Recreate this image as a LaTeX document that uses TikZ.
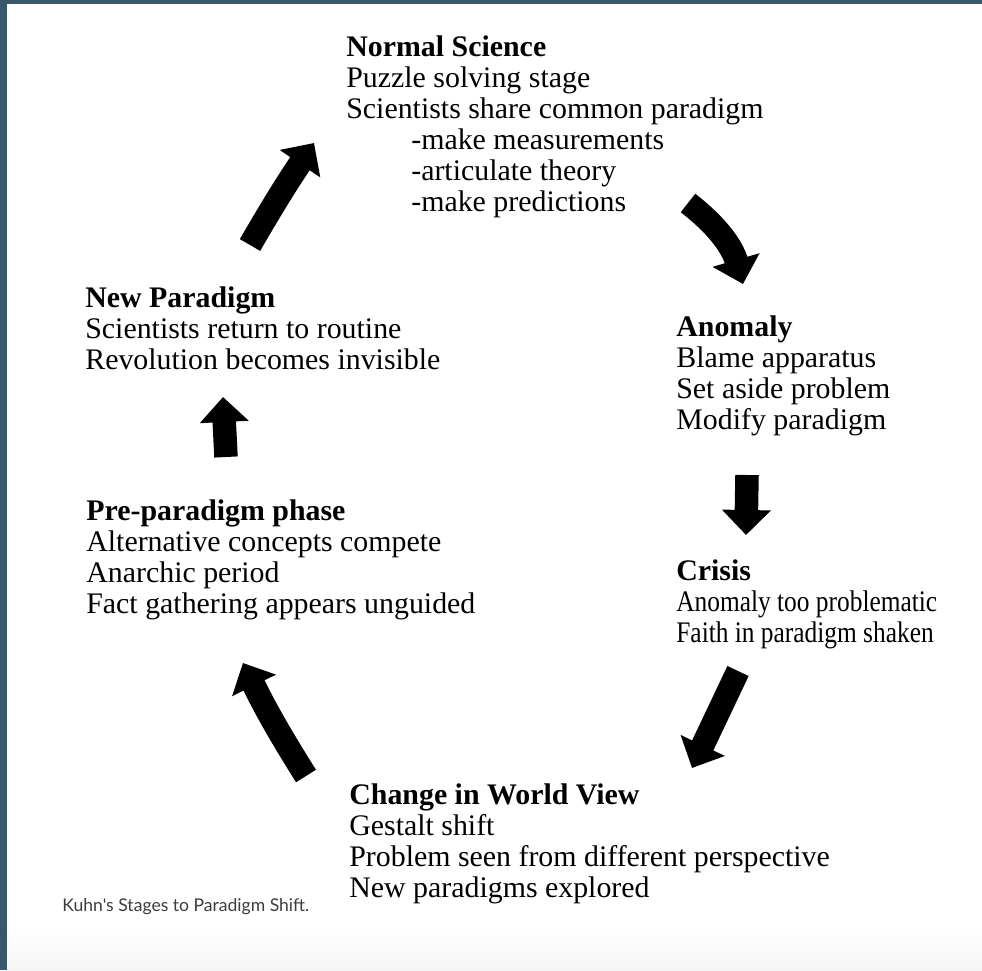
\documentclass[tikz,border=0pt]{standalone}
\usepackage{fontspec}
\setmainfont{Liberation Serif}
\newfontfamily\narrowserif[FakeStretch=0.85]{Liberation Serif}
\newfontfamily\capfont{Lato}
\usetikzlibrary{arrows.meta}

\definecolor{framecol}{RGB}{58,88,108}
\definecolor{capgray}{RGB}{60,60,60}

\begin{document}
\begin{tikzpicture}[x=0.02cm,y=-0.02cm,
  stage/.style={anchor=north west,inner sep=0pt,align=left,
    font=\fontsize{17}{17.64}\selectfont},
  stagearrow/.style={line width=0.47cm,
    -{Triangle[width=0.95cm,length=0.5cm]}}]
\useasboundingbox (0,0) rectangle (982,970);
% frame and caption strip
\shade[top color=white,bottom color=gray!8] (7,928) rectangle (982,970);
\fill[framecol] (0,0) rectangle (7,970);
\fill[framecol] (0,0) rectangle (982,4);
\node[anchor=west,inner sep=0pt,text=capgray,font=\capfont\fontsize{10}{12}\selectfont]
  (caption) at (62,907) {Kuhn's Stages to Paradigm Shift.};

% the six stages
\node[stage] (normal) at (346,35) {\textbf{Normal Science}\\
  Puzzle solving stage\\
  Scientists share common paradigm\\
  \hspace*{1.3cm}-make measurements\\
  \hspace*{1.3cm}-articulate theory\\
  \hspace*{1.3cm}-make predictions};
\node[stage] (anomaly) at (676,315) {\textbf{Anomaly}\\
  Blame apparatus\\
  Set aside problem\\
  Modify paradigm};
\node[stage] (crisis) at (676,559) {\textbf{Crisis}\\
  {\narrowserif Anomaly too problematic}\\
  {\narrowserif Faith in paradigm shaken}};
\node[stage] (change) at (349,783) {\textbf{Change in World View}\\
  Gestalt shift\\
  Problem seen from different perspective\\
  New paradigms explored};
\node[stage] (prepar) at (86,499) {\textbf{Pre-paradigm phase}\\
  Alternative concepts compete\\
  Anarchic period\\
  Fact gathering appears unguided};
\node[stage] (newpar) at (85,286) {\textbf{New Paradigm}\\
  Scientists return to routine\\
  Revolution becomes invisible};

% arrow ends
\coordinate (newpar-out) at (250,245);
\coordinate (normal-in) at (314,143);
\coordinate (normal-out) at (688,203);
\coordinate (anomaly-in) at (743,284);
\coordinate (anomaly-out) at (747,475);
\coordinate (crisis-in) at (746,535);
\coordinate (crisis-out) at (738,671);
\coordinate (change-in) at (692,768);
\coordinate (change-out) at (306,776);
\coordinate (prepar-in) at (243,663);
\coordinate (prepar-out) at (226,457);
\coordinate (newpar-in) at (223,397);

\draw[stagearrow] (newpar-out) to[bend left=2] (normal-in);
\draw[stagearrow] (normal-out) to[bend left=18] (anomaly-in);
\draw[stagearrow] (anomaly-out) -- (crisis-in);
\draw[stagearrow] (crisis-out) -- (change-in);
\draw[stagearrow] (change-out) to[bend left=3] (prepar-in);
\draw[stagearrow] (prepar-out) -- (newpar-in);
\end{tikzpicture}
\end{document}
